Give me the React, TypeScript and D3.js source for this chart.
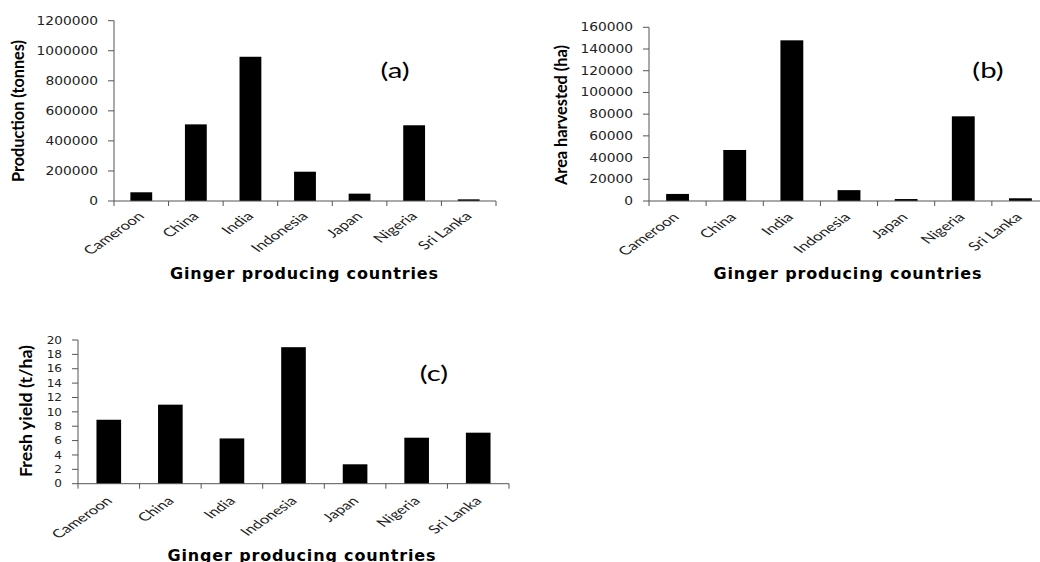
import React from "react";
import * as d3 from "d3";

const countries = ["Cameroon", "China", "India", "Indonesia", "Japan", "Nigeria", "Sri Lanka"];
const production = [58000, 510000, 960000, 195000, 49000, 504000, 11000];
const areaHarvested = [6500, 47000, 148000, 10000, 1800, 78000, 2500];
const freshYield = [8.9, 11.0, 6.3, 19.0, 2.7, 6.4, 7.1];

const productionTicks = [0, 200000, 400000, 600000, 800000, 1000000, 1200000];
const areaTicks = [0, 20000, 40000, 60000, 80000, 100000, 120000, 140000, 160000];
const yieldTicks = [0, 2, 4, 6, 8, 10, 12, 14, 16, 18, 20];

const xTitle = "Ginger producing countries";

type PanelProps = {
  values: number[];
  ticks: number[];
  yTitle: string;
  tag: string;
  x0: number;
  x1: number;
  yTop: number;
  yZero: number;
  sx: number;
  catSx: number;
  catDx: number;
  catDy: number;
  tickFont: number;
  catFont: number;
  yTitlePos: [number, number];
  yTitleLen: number;
  xTitlePos: [number, number];
  tagPos: [number, number];
};

function Panel(p: PanelProps) {
  const x = d3.scaleBand<string>().domain(countries).range([p.x0, p.x1]).paddingInner(0.6).paddingOuter(0.3);
  const y = d3.scaleLinear().domain([0, p.ticks[p.ticks.length - 1]]).range([p.yZero, p.yTop]);
  const step = x.step();
  const axisColor = "#555";
  return (
    <g>
      {countries.map((c, i) => (
        <rect key={c} x={x(c)} y={y(p.values[i])} width={x.bandwidth()} height={p.yZero - y(p.values[i])} fill="#000" />
      ))}
      <line x1={p.x0} x2={p.x0} y1={p.yZero} y2={p.yTop} stroke={axisColor} strokeWidth={1} />
      <line x1={p.x0} x2={p.x1} y1={p.yZero} y2={p.yZero} stroke={axisColor} strokeWidth={1} />
      {p.ticks.map((t) => (
        <g key={t}>
          <line x1={p.x0 - 6} x2={p.x0} y1={y(t)} y2={y(t)} stroke={axisColor} />
          <text
            transform={`translate(${p.x0 - 16},${y(t)}) scale(${p.sx},1)`}
            dy="0.35em"
            textAnchor="end"
            fontFamily="DejaVu Sans"
            fontSize={p.tickFont}
            fill="#222"
          >
            {t}
          </text>
        </g>
      ))}
      {d3.range(countries.length + 1).map((i) => (
        <line key={i} x1={p.x0 + i * step} x2={p.x0 + i * step} y1={p.yZero} y2={p.yZero + 5} stroke={axisColor} />
      ))}
      {countries.map((c) => (
        <text
          key={c}
          transform={`translate(${(x(c) as number) + x.bandwidth() / 2 + p.catDx},${p.yZero + p.catDy}) scale(${p.catSx},1) rotate(-45)`}
          textAnchor="end"
          fontFamily="Lato"
          fontSize={p.catFont}
          fill="#222"
        >
          {c}
        </text>
      ))}
      <text
        transform={`translate(${p.yTitlePos[0]},${p.yTitlePos[1]}) rotate(-90)`}
        textAnchor="middle"
        fontFamily="Lato"
        fontWeight="bold"
        fontSize={17}
        textLength={p.yTitleLen}
        lengthAdjust="spacingAndGlyphs"
        fill="#000"
      >
        {p.yTitle}
      </text>
      <text
        x={p.xTitlePos[0]}
        y={p.xTitlePos[1]}
        textAnchor="middle"
        fontFamily="DejaVu Sans"
        fontWeight="bold"
        fontSize={16}
        textLength={268}
        lengthAdjust="spacing"
        fill="#000"
      >
        {xTitle}
      </text>
      <text
        transform={`translate(${p.tagPos[0]},${p.tagPos[1]}) scale(1.4,1)`}
        textAnchor="middle"
        fontFamily="Lato"
        fontSize={21}
        fill="#000"
      >
        {p.tag}
      </text>
    </g>
  );
}

export default function App() {
  return (
    <svg width={1040} height={562} style={{ position: "absolute", left: 0, top: 0, background: "#fff" }}>
      <rect x={0} y={0} width={1040} height={562} fill="#fff" />
      <Panel
        values={production}
        ticks={productionTicks}
        yTitle="Production (tonnes)"
        tag="(a)"
        x0={114}
        x1={496}
        yTop={20.7}
        yZero={201}
        sx={1.2}
        catSx={1.42}
        catDx={4}
        catDy={16}
        tickFont={11.5}
        catFont={12}
        yTitlePos={[24, 111]}
        yTitleLen={142}
        xTitlePos={[304, 279]}
        tagPos={[395, 78]}
      />
      <Panel
        values={areaHarvested}
        ticks={areaTicks}
        yTitle="Area harvested (ha)"
        tag="(b)"
        x0={649}
        x1={1049}
        yTop={27.3}
        yZero={201}
        sx={1.2}
        catSx={1.42}
        catDx={2.5}
        catDy={17}
        tickFont={11.5}
        catFont={12}
        yTitlePos={[567, 115]}
        yTitleLen={140}
        xTitlePos={[847.5, 279]}
        tagPos={[988, 78]}
      />
      <Panel
        values={freshYield}
        ticks={yieldTicks}
        yTitle="Fresh yield  (t/ha)"
        tag="(c)"
        x0={78}
        x1={509}
        yTop={340}
        yZero={483.7}
        sx={1.15}
        catSx={1.45}
        catDx={4.5}
        catDy={18}
        tickFont={10.5}
        catFont={11.7}
        yTitlePos={[32, 411]}
        yTitleLen={132}
        xTitlePos={[301.5, 561]}
        tagPos={[434, 381]}
      />
    </svg>
  );
}
